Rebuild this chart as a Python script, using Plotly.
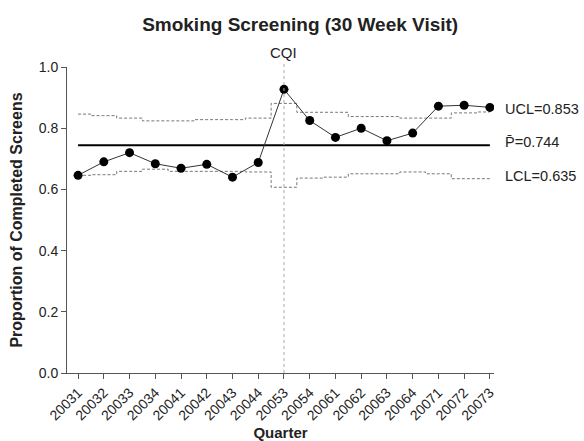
import plotly.graph_objects as go

quarters = ["20031", "20032", "20033", "20034", "20041", "20042", "20043", "20044",
            "20053", "20054", "20061", "20062", "20063", "20064", "20071", "20072", "20073"]
proportion = [0.646, 0.690, 0.720, 0.684, 0.669, 0.682, 0.640, 0.688,
              0.927, 0.825, 0.770, 0.800, 0.759, 0.784, 0.872, 0.875, 0.868]
ucl = [0.846, 0.841, 0.833, 0.824, 0.824, 0.828, 0.828, 0.833,
       0.881, 0.852, 0.852, 0.838, 0.838, 0.833, 0.833, 0.850, 0.853]
lcl = [0.646, 0.648, 0.659, 0.666, 0.659, 0.659, 0.659, 0.657,
       0.607, 0.637, 0.640, 0.651, 0.651, 0.657, 0.651, 0.635, 0.635]
p_bar = 0.744
ucl_label = 0.853
lcl_label = 0.635
cqi_quarter = "20053"
y_ticks = [0.0, 0.2, 0.4, 0.6, 0.8, 1.0]

FONT = "Liberation Sans, Arial, sans-serif"
TXT = "#222222"

fig = go.Figure()

fig.add_trace(go.Scatter(x=quarters, y=ucl, mode="lines", line_shape="hvh",
                         line=dict(color="#777777", width=1, dash="3px,2px"), hoverinfo="skip"))
fig.add_trace(go.Scatter(x=quarters, y=lcl, mode="lines", line_shape="hvh",
                         line=dict(color="#777777", width=1, dash="3px,2px"), hoverinfo="skip"))
fig.add_trace(go.Scatter(x=[quarters[0], quarters[-1]], y=[p_bar, p_bar], mode="lines",
                         line=dict(color="black", width=2), hoverinfo="skip"))
fig.add_trace(go.Scatter(x=quarters, y=proportion, mode="lines+markers",
                         line=dict(color="#333333", width=1),
                         marker=dict(color="black", size=9)))

cqi_idx = quarters.index(cqi_quarter)
fig.add_shape(type="line", xref="x", yref="paper", x0=cqi_idx, x1=cqi_idx, y0=0, y1=1.01,
              line=dict(color="#aaaaaa", width=1, dash="dot"))
fig.add_annotation(x=cqi_idx, xref="x", y=1.0, yref="paper", text="CQI",
                   showarrow=False, yanchor="bottom", yshift=4,
                   font=dict(family=FONT, size=15, color=TXT))

for val, label in [(ucl_label, f"UCL={ucl_label:.3f}"),
                   (p_bar, f"P\u0304={p_bar:.3f}"),
                   (lcl_label, f"LCL={lcl_label:.3f}")]:
    fig.add_annotation(x=1.022, xref="paper", y=val, yref="y", text=label, showarrow=False,
                       xanchor="left", yanchor="middle", yshift=3,
                       font=dict(family=FONT, size=14.5, color=TXT))

fig.update_layout(
    width=584, height=441,
    margin=dict(l=67, r=90, t=67, b=68, autoexpand=False),
    paper_bgcolor="white", plot_bgcolor="white",
    showlegend=False,
    title=dict(text="<b>Smoking Screening (30 Week Visit)</b>", x=0.514, xanchor="center",
               y=0.944, yanchor="middle", font=dict(family=FONT, size=19, color=TXT)),
    font=dict(family=FONT, size=14, color=TXT),
)
fig.update_xaxes(type="category", categoryorder="array", categoryarray=quarters,
                 range=[-0.43, 16.16], showgrid=False, zeroline=False, automargin=False,
                 showline=True, linecolor="#555555", linewidth=1,
                 ticks="outside", ticklen=5, tickcolor="#555555", tickangle=-45,
                 tickfont=dict(family=FONT, size=14, color=TXT),
                 title=dict(text="<b>Quarter</b>", font=dict(family=FONT, size=15, color=TXT), standoff=8))
fig.update_yaxes(range=[0, 1.0], tickvals=y_ticks, ticktext=[f"{v:.1f}" for v in y_ticks],
                 showgrid=False, zeroline=False, automargin=False,
                 showline=True, linecolor="#555555", linewidth=1,
                 ticks="outside", ticklen=5, tickcolor="#555555",
                 tickfont=dict(family=FONT, size=14, color=TXT),
                 title=dict(text="<b>Proportion of Completed Screens</b>",
                            font=dict(family=FONT, size=16, color=TXT), standoff=12))

fig.write_html("out.html", config={"displayModeBar": False},
               post_script="document.body.style.margin='0px';document.body.style.overflow='hidden';")
